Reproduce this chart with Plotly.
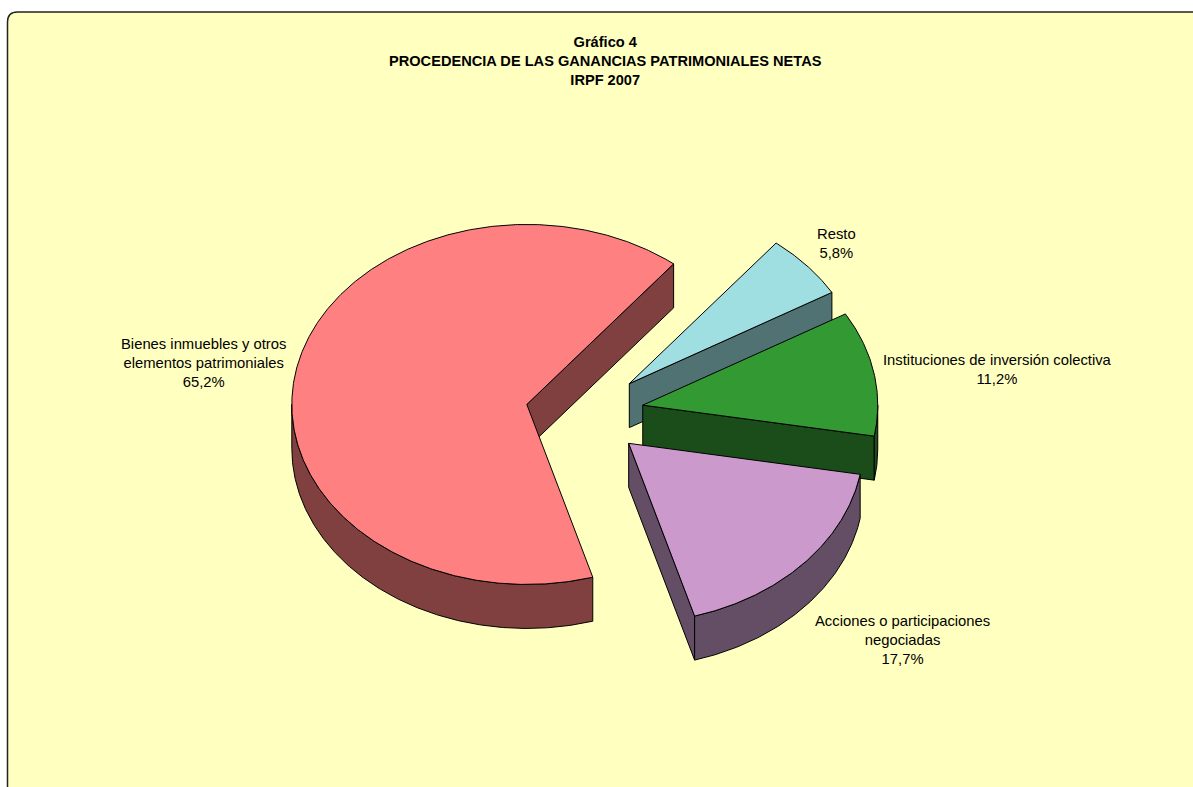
import numpy as np
import plotly.graph_objects as go

# ---------------- data ----------------
categories = [
    "Bienes inmuebles y otros<br>elementos patrimoniales",
    "Resto",
    "Instituciones de inversión colectiva",
    "Acciones o participaciones<br>negociadas",
]
values = [65.2, 5.8, 11.2, 17.7]
title_lines = ["Gráfico 4", "PROCEDENCIA DE LAS GANANCIAS PATRIMONIALES NETAS", "IRPF 2007"]

# ---------------- style ----------------
top_colors = ["#FF8080", "#A0DFE1", "#339933", "#CC99CC"]
side_colors = ["#804040", "#507272", "#1A4D1A", "#644E66"]
label_pos = [(203, 363), (836, 243), (997, 369), (902, 640)]

W, H = 1193, 787
CX, CY = 584.7, 413.2
RX, RY = 235.0, 180.0
DEPTH = 44.0
EXPLODE = 59.0
START = 163.7  # degrees clockwise from 12 o'clock

def rim(theta, ox, oy, dz=0.0):
    t = np.radians(theta)
    return ox + RX * np.sin(t), oy - RY * np.cos(t) + dz

def arc(a, b, ox, oy, dz=0.0):
    n = max(int(abs(b - a) * 2) + 2, 3)
    th = np.linspace(a, b, n)
    xs, ys = rim(th, ox, oy, dz)
    return list(xs), list(ys)

total = sum(values)
walls = []
tops = []
cum = 0.0
for i, v in enumerate(values):
    a0 = START + cum / total * 360.0
    a1 = a0 + v / total * 360.0
    cum += v
    mid = np.radians((a0 + a1) / 2)
    ox = CX + EXPLODE * np.sin(mid)
    oy = CY - EXPLODE * (RY / RX) * np.cos(mid)

    # top face
    xs, ys = arc(a0, a1, ox, oy)
    tops.append(([ox] + xs + [ox], [oy] + ys + [oy], top_colors[i]))

    # outer (curved) wall, visible in front half (90..270 deg)
    for k in range(-1, 3):
        lo = max(a0, 90 + 360 * k)
        hi = min(a1, 270 + 360 * k)
        if hi > lo:
            tx, ty = arc(lo, hi, ox, oy)
            bx, by = arc(hi, lo, ox, oy, DEPTH)
            px = tx + bx + [tx[0]]
            py = ty + by + [ty[0]]
            walls.append((px, py, side_colors[i]))

    # radial walls
    for ang, visible in ((a0, np.sin(np.radians(a0)) < 0), (a1, np.sin(np.radians(a1)) > 0)):
        if visible:
            rx_, ry_ = rim(ang, ox, oy)
            px = [ox, rx_, rx_, ox, ox]
            py = [oy, ry_, ry_ + DEPTH, oy + DEPTH, oy]
            walls.append((px, py, side_colors[i]))

walls.sort(key=lambda w: np.mean(w[1]))

fig = go.Figure()
for px, py, c in walls + tops:
    fig.add_trace(go.Scatter(
        x=px, y=py, mode="lines", fill="toself", fillcolor=c,
        line=dict(color="#000000", width=1), hoverinfo="skip", showlegend=False,
    ))

# labels
for (lx, ly), cat, v in zip(label_pos, categories, values):
    pct = f"{v:.1f}".replace(".", ",") + "%"
    fig.add_annotation(
        x=lx, y=ly, text=f"{cat}<br>{pct}", showarrow=False,
        xanchor="center", yanchor="middle", align="center",
        font=dict(family="Liberation Sans, Arial, sans-serif", size=14.8, color="#000000"),
    )

fig.add_annotation(
    x=605, y=61, text="<b>" + "<br>".join(title_lines) + "</b>", showarrow=False,
    xanchor="center", yanchor="middle", align="center",
    font=dict(family="Liberation Sans, Arial, sans-serif", size=14.6, color="#000000"),
)

fig.add_shape(
    type="path", xref="x", yref="y", layer="below",
    path="M 7.5,800 L 7.5,22 Q 7.5,12 17.5,12 L 1210,12 L 1210,800 Z",
    fillcolor="#FFFFC0", line=dict(color="#222222", width=1.5),
)

fig.update_layout(
    width=W, height=H, margin=dict(l=0, r=0, t=0, b=0),
    paper_bgcolor="#FFFFFF", plot_bgcolor="rgba(0,0,0,0)",
    xaxis=dict(range=[0, W], visible=False, fixedrange=True),
    yaxis=dict(range=[H, 0], visible=False, fixedrange=True),
    showlegend=False,
)

fig.write_html(
    "out.html",
    config={"displayModeBar": False},
    post_script="document.body.style.margin='0';document.body.style.overflow='hidden';",
)
